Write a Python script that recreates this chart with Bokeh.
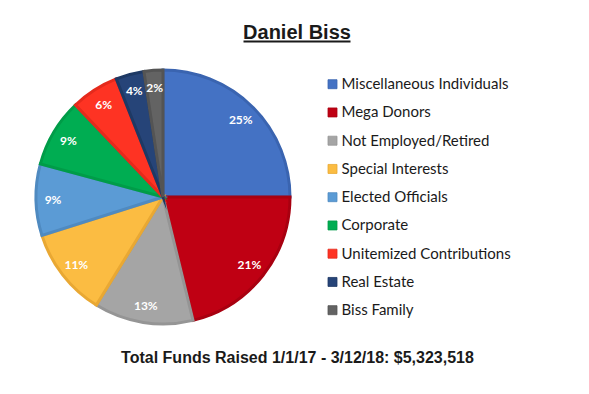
import numpy as np
from bokeh.plotting import figure
from bokeh.models import Range1d, Label, ColumnDataSource
from bokeh.core.properties import value
from bokeh.embed import file_html
from bokeh.resources import INLINE

# ---- data ----
categories = ["Miscellaneous Individuals", "Mega Donors", "Not Employed/Retired",
              "Special Interests", "Elected Officials", "Corporate",
              "Unitemized Contributions", "Real Estate", "Biss Family"]
shares = [25.0, 21.2, 12.6, 11.3, 9.1, 8.7, 6.1, 3.6, 2.4]
fill_colors = ["#4472C4", "#BF0013", "#A5A5A5", "#FBBC42", "#5B9BD5",
               "#00AD52", "#FE3323", "#264478", "#636363"]
edge_colors = ["#3A64B0", "#A80010", "#959595", "#E9A833", "#4F8AC0",
               "#009C48", "#E52A1C", "#1E3964", "#545454"]
title_text = "Daniel Biss"
subtitle_text = "Total Funds Raised 1/1/17 - 3/12/18: $5,323,518"

# ---- layout (pixels) ----
W, H = 573, 378
def X(px):  # page px -> data x
    return px
def Y(py):  # page py -> data y
    return H - py

cx, cy, R = X(162.5), Y(196.5), 127
label_r = 110

vals = np.array(shares, dtype=float)
frac = vals / vals.sum()
cum_end = np.cumsum(frac)
cum_start = cum_end - frac
start_ang = np.pi / 2 - 2 * np.pi * cum_end
end_ang = np.pi / 2 - 2 * np.pi * cum_start
mid = (start_ang + end_ang) / 2
labels = [f"{round(v)}%" for v in vals]

src = ColumnDataSource(dict(
    cat=categories, start=start_ang, end=end_ang, fill=fill_colors, edge=edge_colors,
    lx=cx + label_r * np.cos(mid), ly=cy + label_r * np.sin(mid), lab=labels,
))

p = figure(width=W, height=H, output_backend="svg", toolbar_location=None,
           x_range=Range1d(0, W), y_range=Range1d(0, H), min_border=0,
           outline_line_color=None, background_fill_color="white")
p.axis.visible = False
p.grid.visible = False

p.wedge(x=cx, y=cy, radius=R, start_angle="start", end_angle="end",
        fill_color="fill", line_color="edge", line_width=3, line_join="miter",
        source=src)

p.text(x="lx", y="ly", text="lab", source=src, text_color="white",
       text_font=value("Lato"), text_font_style="bold", text_font_size="12px",
       text_align="center", text_baseline="middle")

# legend (manual)
row0, step = 83.7, 28.25
leg_y = [Y(row0 + step * i) for i in range(len(categories))]
leg = ColumnDataSource(dict(y=leg_y, ty=[v + 1 for v in leg_y], cat=categories,
                            fill=fill_colors, edge=edge_colors))
p.rect(x=X(332), y="y", width=9, height=9, fill_color="fill", line_color="edge",
       line_width=0.8, source=leg)
p.text(x=X(341), y="ty", text="cat", source=leg, text_color="#1a1a1a",
       text_font=value("Lato"), text_font_size="15px",
       text_align="left", text_baseline="middle")

# title + underline
p.add_layout(Label(x=X(296.5), y=Y(31.5), text=title_text, text_align="center",
                   text_baseline="middle", text_font="Liberation Sans",
                   text_font_style="bold", text_font_size="20px", text_color="#1a1a1a"))
p.segment(x0=X(243), y0=Y(41), x1=X(350), y1=Y(41), line_color="#1a1a1a", line_width=2)

p.add_layout(Label(x=X(297), y=Y(356.7), text=subtitle_text, text_align="center",
                   text_baseline="middle", text_font="Liberation Sans",
                   text_font_style="bold", text_font_size="16px", text_color="#1a1a1a"))

open("out.html", "w").write(file_html(p, INLINE))
